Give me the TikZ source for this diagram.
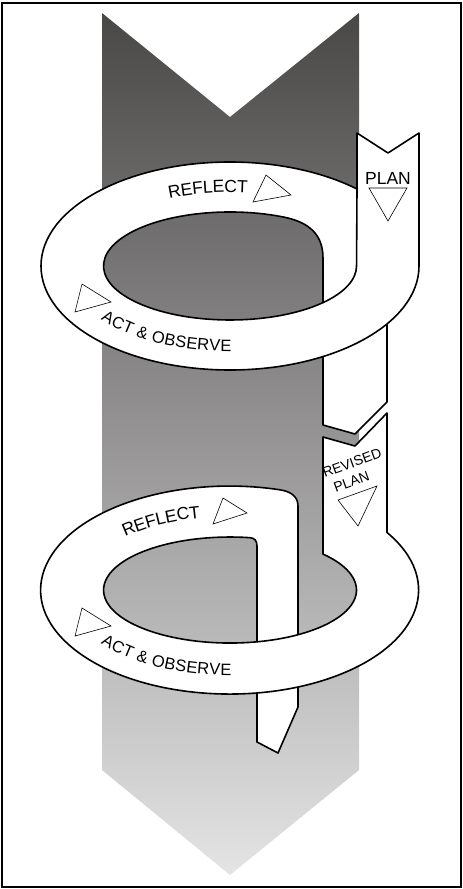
\documentclass[tikz,border=0pt]{standalone}
\usepackage{fontspec}
\setmainfont{Liberation Sans}
\usetikzlibrary{decorations.text}
\definecolor{shaftTop}{HTML}{4A4747}
\definecolor{shaftBottom}{HTML}{E4E4E4}
\newcommand{\reflectsize}{\fontsize{17.5}{17.5}\selectfont}
\newcommand{\actsize}{\fontsize{16.5}{16.5}\selectfont}

\begin{document}
\begin{tikzpicture}[x=1pt,y=1pt,
  ribbon/.style={fill=white,draw=black,line width=1.6pt,line join=round},
  rim/.style={draw=black,line width=1.6pt},
  cue/.style={draw=black,line width=0.6pt},
  band/.style 2 args={decorate,decoration={text along path,raise=#1,text={#2}}}]
  \useasboundingbox (0,0) rectangle (463,-889);
  \draw[line width=1.5pt] (2,-3) rectangle (461,-887);
  % big arrow behind the spiral
  \shade[top color=shaftTop,bottom color=shaftBottom] (102,-13) -- (230,-117) -- (359,-13)
    -- (359,-770) -- (230,-875) -- (102,-770) -- cycle;

  % first cycle
  \path[ribbon] (323,-310) -- (323,-425) -- (355,-434) -- (387,-402) -- (387,-310);
  \path[ribbon,even odd rule] (357,-133) -- (388,-153) -- (419,-133) -- (419,-266)
    arc[start angle=0,end angle=-312.2,x radius=189,y radius=104] -- cycle
    (323,-302.6) arc[start angle=-42.7,end angle=-295,x radius=126.5,y radius=54]
    .. controls (303,-221) and (323,-230) .. (323,-258) -- cycle;
  \path[rim] (323,-302.6) arc[start angle=-42.7,end angle=0,x radius=126.5,y radius=54] -- (357,-189);

  % second cycle
  \path[ribbon] (257,-650) -- (257,-742) -- (278,-753) -- (298,-707) -- (298,-650);
  \path[ribbon,even odd rule] (323,-437) -- (355,-446) -- (387,-413) -- (387,-532.5)
    arc[start angle=33.6,end angle=-285,x radius=189,y radius=104]
    .. controls (290,-491) and (298,-496) .. (298,-506) -- (298,-634.7)
    arc[start angle=-57.5,end angle=42.7,x radius=126.5,y radius=53] -- cycle
    (257,-641.8) arc[start angle=-77.7,end angle=-279,x radius=126.5,y radius=53]
    .. controls (254,-538) and (257,-540) .. (257,-546) -- cycle;
  \path[rim] (257,-641.8) arc[start angle=-77.7,end angle=-57.5,x radius=126.5,y radius=53];

  % direction marks
  \draw[cue] (266,-175) -- (291,-195) -- (253,-202) -- cycle;
  \draw[cue] (369,-188) -- (407,-188) -- (388,-221) -- cycle;
  \draw[cue] (82,-284) -- (111,-302) -- (75,-312) -- cycle;
  \draw[cue] (223,-498) -- (247,-513) -- (213,-524) -- cycle;
  \draw[cue] (338,-500) -- (377,-486) -- (358,-526) -- cycle;
  \draw[cue] (82,-608) -- (111,-626) -- (75,-636) -- cycle;

  % labels
  \node[font=\reflectsize] (plan) at (388,-178) {PLAN};
  \node[font=\fontsize{14}{17.5}\selectfont,rotate=20,align=center,inner sep=0pt] (revised)
    at (355,-471) {REVISED\\\hspace*{-14pt}PLAN};
  \path[band={-5.5pt}{|\reflectsize|REFLECT}] (168.4,-193.3)
    arc[start angle=113,end angle=40,x radius=157.75,y radius=79];
  \path[band={-5.5pt}{|\reflectsize|REFLECT}] (123,-531.9)
    arc[start angle=132.7,end angle=60,x radius=157.75,y radius=79];
  \path[band={-6.5pt}{|\actsize|ACT {\&} OBSERVE}] (104,-313.5)
    arc[start angle=217,end angle=300,x radius=157.75,y radius=79];
  \path[band={-6.5pt}{|\actsize|ACT {\&} OBSERVE}] (104,-637.5)
    arc[start angle=217,end angle=300,x radius=157.75,y radius=79];
\end{tikzpicture}
\end{document}
